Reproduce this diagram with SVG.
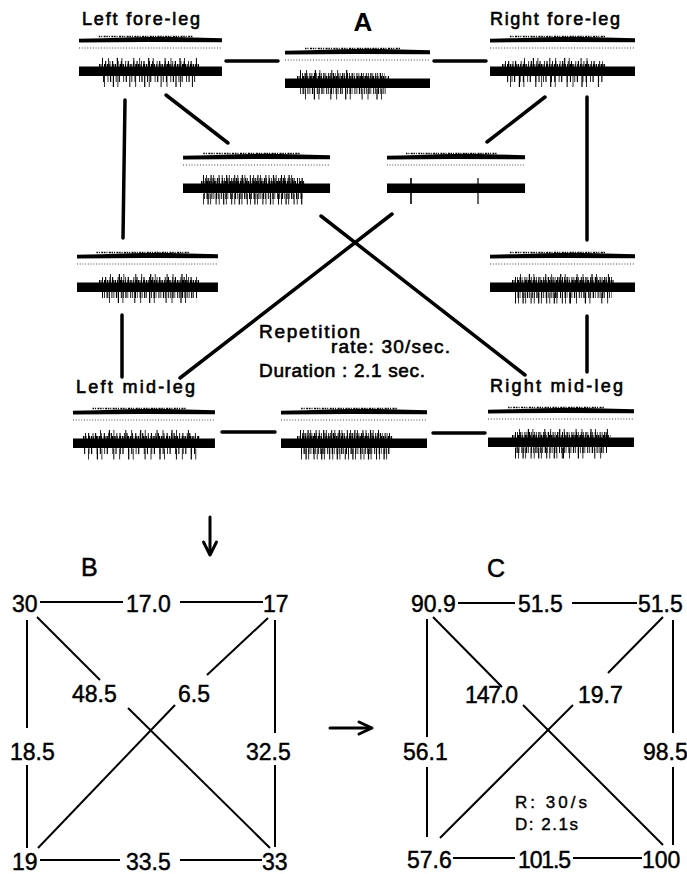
<svg xmlns="http://www.w3.org/2000/svg" xmlns:xlink="http://www.w3.org/1999/xlink" width="687" height="874" viewBox="0 0 687 874">
<style>
.bg{fill:#fff}
.dot{stroke:#000;stroke-width:1;stroke-dasharray:1 1.8;fill:none;opacity:0.75}
.sp{stroke:#000;fill:none}
.hs{stroke-width:6}
.ht{stroke-width:9}
.ls{stroke-width:6}
.lt{stroke-width:11}
.fz{stroke-width:3}
.dA{stroke-dasharray:1 1.1 0.8 1.6 1.3 0.9 0.7 2}
.dAt{stroke-dasharray:1 2.2 0.8 3.5 1.2 1.6 0.8 4.5}
.dC{stroke-dasharray:0.9 2.2 1.1 3.4 0.8 1.6 1.2 4.5}
.dB{stroke-dasharray:1 5 0.8 8 1.2 3.5 0.8 11}
.dF{stroke-dasharray:1.5 1 1 1.5 2 0.8}
.cn{stroke:#000;stroke-width:3.5;stroke-linecap:round;fill:none}
.ln{stroke:#000;stroke-width:2;fill:none}
.ar{stroke:#000;stroke-width:3;fill:none;stroke-linecap:round;stroke-linejoin:round}
text{font-family:"Liberation Sans",Arial,sans-serif;fill:#000;stroke:#000}
.lbl{font-size:18px;stroke-width:0.6}
.note{font-size:19px;stroke-width:0.6}
.num{font-size:23px;stroke-width:0.45}
.sm{font-size:17px;stroke-width:0.4}
.big{font-size:26px;font-weight:bold;stroke-width:0}
.let{font-size:25px;stroke-width:0.5}
</style>
<defs>
<g id="base">
<path d="M0,1.8 L25,1.2 L55,0.2 L85,-0.3 L115,0.4 L145,1.2 V5.2 L70,5 L0,5.4 Z"/>
<line class="sp dF" stroke-width="1.5" x1="20" y1="-0.5" x2="115" y2="-0.5"/>
<line class="dot" x1="0" y1="11" x2="145" y2="11"/>
<rect x="0" y="29.5" width="145" height="9.5"/>
</g>
</defs>
<rect class="bg" x="0" y="0" width="687" height="874"/>

<!-- Panel A -->
<text class="big" x="363" y="31" text-anchor="middle">A</text>

<g id="left-fore">
<text class="lbl" x="82" y="25" textLength="118" lengthAdjust="spacing">Left fore-leg</text>
<g transform="translate(79,37)">
<use xlink:href="#base" transform="scale(0.986,1)"/>
<line class="sp hs dC" x1="23" y1="27" x2="118" y2="27"/>
<line class="sp ht dB" x1="23" y1="25.5" x2="118" y2="25.5"/>
<line class="sp fz dF" x1="20" y1="28.5" x2="120" y2="28.5"/>
<line class="sp ls dC" x1="24" y1="42" x2="118" y2="42" stroke-dashoffset="3"/>
<line class="sp lt dB" x1="24" y1="44.5" x2="118" y2="44.5" stroke-dashoffset="5"/>
</g>
</g>

<g id="top-mid">
<g transform="translate(285,49)">
<use xlink:href="#base"/>
<line class="sp hs dA" x1="15" y1="27" x2="100" y2="27"/>
<line class="sp ht dB" x1="15" y1="25.5" x2="65" y2="25.5"/>
<line class="sp fz dF" x1="12" y1="28.5" x2="104" y2="28.5"/>
<line class="sp ls dA" x1="15" y1="42" x2="102" y2="42" stroke-dashoffset="2"/>
<line class="sp lt dB" x1="18" y1="45" x2="102" y2="45" stroke-dashoffset="4"/>
</g>
</g>

<g id="right-fore">
<text class="lbl" x="490" y="25" textLength="130" lengthAdjust="spacing">Right fore-leg</text>
<g transform="translate(490,37)">
<use xlink:href="#base"/>
<line class="sp hs dC" x1="15" y1="27" x2="113" y2="27"/>
<line class="sp ht dB" x1="30" y1="25.5" x2="100" y2="25.5" stroke-dashoffset="2"/>
<line class="sp fz dF" x1="12" y1="28.5" x2="116" y2="28.5"/>
<line class="sp ls dC" x1="15" y1="42" x2="113" y2="42" stroke-dashoffset="1"/>
<line class="sp lt dB" x1="20" y1="44.5" x2="113" y2="44.5" stroke-dashoffset="6"/>
</g>
</g>

<g id="mid-left">
<g transform="translate(183,154)">
<use xlink:href="#base" transform="scale(1.014,1)"/>
<line class="sp hs dA" x1="20" y1="27" x2="120" y2="27"/>
<line class="sp ht dAt" x1="20" y1="25.5" x2="110" y2="25.5"/>
<line class="sp fz dF" x1="18" y1="28.5" x2="122" y2="28.5"/>
<line class="sp ls dA" x1="20" y1="42" x2="120" y2="42" stroke-dashoffset="1"/>
<line class="sp lt dAt" x1="20" y1="45" x2="120" y2="45" stroke-dashoffset="3"/>
</g>
</g>

<g id="mid-right">
<g transform="translate(387,154)">
<use xlink:href="#base" transform="scale(0.952,1)"/>
<line class="sp" stroke-width="1.6" x1="24" y1="24" x2="24" y2="50"/>
<line class="sp" stroke-width="1.2" x1="91" y1="24" x2="91" y2="50"/>
</g>
</g>

<g id="left-row3">
<g transform="translate(77,253)">
<use xlink:href="#base" transform="scale(0.972,1)"/>
<line class="sp hs dC" x1="25" y1="27" x2="120" y2="27"/>
<line class="sp ht dB" x1="30" y1="25.5" x2="118" y2="25.5" stroke-dashoffset="3"/>
<line class="sp fz dF" x1="22" y1="28.5" x2="122" y2="28.5"/>
<line class="sp ls dA" x1="25" y1="42" x2="120" y2="42"/>
<line class="sp lt dB" x1="28" y1="44.5" x2="120" y2="44.5" stroke-dashoffset="2"/>
</g>
</g>

<g id="right-row3">
<g transform="translate(490,253)">
<use xlink:href="#base"/>
<line class="sp hs dA" x1="25" y1="27" x2="122" y2="27"/>
<line class="sp ht dB" x1="25" y1="25.5" x2="122" y2="25.5" stroke-dashoffset="1"/>
<line class="sp fz dF" x1="22" y1="28.5" x2="124" y2="28.5"/>
<line class="sp ls dA" x1="25" y1="42" x2="122" y2="42" stroke-dashoffset="2"/>
<line class="sp lt dAt" x1="25" y1="45" x2="80" y2="45"/>
<line class="sp lt dB" x1="80" y1="45" x2="122" y2="45"/>
</g>
</g>

<g id="left-mid">
<text class="lbl" x="76" y="393" textLength="119" lengthAdjust="spacing">Left mid-leg</text>
<g transform="translate(73,409)">
<use xlink:href="#base" transform="scale(0.979,1)"/>
<line class="sp hs dC" x1="12" y1="27" x2="125" y2="27"/>
<line class="sp ht dB" x1="25" y1="25.5" x2="120" y2="25.5" stroke-dashoffset="4"/>
<line class="sp fz dF" x1="10" y1="28.5" x2="127" y2="28.5"/>
<line class="sp ls dC" x1="10" y1="42" x2="125" y2="42" stroke-dashoffset="2"/>
<line class="sp lt dB" x1="10" y1="45" x2="125" y2="45" stroke-dashoffset="1"/>
</g>
</g>

<g id="bottom-mid">
<g transform="translate(281,409)">
<use xlink:href="#base" transform="scale(1.007,1)"/>
<line class="sp hs dA" x1="19" y1="27" x2="109" y2="27"/>
<line class="sp ht dAt" x1="19" y1="25.5" x2="100" y2="25.5"/>
<line class="sp fz dF" x1="16" y1="28.5" x2="112" y2="28.5"/>
<line class="sp ls dA" x1="19" y1="42" x2="109" y2="42" stroke-dashoffset="1"/>
<line class="sp lt dAt" x1="19" y1="45" x2="109" y2="45" stroke-dashoffset="2"/>
</g>
</g>

<g id="right-mid">
<text class="lbl" x="490" y="392" textLength="133" lengthAdjust="spacing">Right mid-leg</text>
<g transform="translate(488,408)">
<use xlink:href="#base" transform="scale(1.007,1)"/>
<line class="sp hs dA" x1="27" y1="27" x2="120" y2="27"/>
<line class="sp ht dB" x1="27" y1="25.5" x2="120" y2="25.5" stroke-dashoffset="2"/>
<line class="sp fz dF" x1="24" y1="28.5" x2="123" y2="28.5"/>
<line class="sp ls dA" x1="27" y1="42" x2="120" y2="42" stroke-dashoffset="3"/>
<line class="sp lt dAt" x1="27" y1="45" x2="75" y2="45"/>
<line class="sp lt dB" x1="75" y1="45" x2="120" y2="45"/>
</g>
</g>

<g id="note">
<text class="note" x="259" y="338" textLength="101" lengthAdjust="spacing">Repetition</text>
<text class="note" x="331" y="353" textLength="119" lengthAdjust="spacing">rate: 30/sec.</text>
<text class="note" x="259" y="377" textLength="166" lengthAdjust="spacing">Duration : 2.1 sec.</text>
</g>

<g id="connectors-A">
<line class="cn" x1="226" y1="61" x2="278" y2="61"/>
<line class="cn" x1="434" y1="61" x2="486" y2="61"/>
<line class="cn" x1="125" y1="100" x2="123" y2="238"/>
<line class="cn" x1="166" y1="95" x2="228" y2="143"/>
<line class="cn" x1="545" y1="97" x2="487" y2="142"/>
<line class="cn" x1="587" y1="97" x2="587" y2="240"/>
<line class="cn" x1="321" y1="216" x2="525" y2="375"/>
<line class="cn" x1="392" y1="214" x2="180" y2="378"/>
<line class="cn" x1="122" y1="315" x2="122" y2="377"/>
<line class="cn" x1="587" y1="316" x2="587" y2="372"/>
<line class="cn" x1="222" y1="432" x2="275" y2="432"/>
<line class="cn" x1="433" y1="433" x2="485" y2="433"/>
</g>

<!-- arrows between panels -->
<g id="arrows">
<line class="ar" x1="210" y1="517" x2="210" y2="553"/>
<polyline class="ar" points="203.5,542 210,555 216.5,542"/>
<line class="ar" stroke-width="2.5" x1="330" y1="728" x2="370" y2="728"/>
<polyline class="ar" stroke-width="2.5" points="359,722 372,728 359,734"/>
</g>

<!-- Panel B -->
<g id="panel-B">
<text class="let" x="81" y="576">B</text>
<g id="B-n30"><text class="num" x="12" y="612">30</text></g>
<g id="B-n17"><text class="num" x="263" y="612">17</text></g>
<g id="B-n19"><text class="num" x="12" y="870">19</text></g>
<g id="B-n33"><text class="num" x="262" y="870">33</text></g>
<g id="B-labels">
<text class="num" x="126" y="612">17.0</text>
<text class="num" x="72" y="702">48.5</text>
<text class="num" x="178" y="702">6.5</text>
<text class="num" x="10" y="760">18.5</text>
<text class="num" x="246" y="760">32.5</text>
<text class="num" x="126" y="870">33.5</text>
</g>
<g id="connectors-B">
<line class="ln" x1="40" y1="602" x2="123" y2="602"/>
<line class="ln" x1="180" y1="602" x2="263" y2="602"/>
<line class="ln" x1="27" y1="620" x2="27" y2="728"/>
<line class="ln" x1="27" y1="765" x2="27" y2="848"/>
<line class="ln" x1="275" y1="620" x2="275" y2="733"/>
<line class="ln" x1="275" y1="765" x2="275" y2="847"/>
<line class="ln" x1="37" y1="617" x2="100" y2="680"/>
<line class="ln" x1="268" y1="618" x2="207" y2="675"/>
<line class="ln" x1="175" y1="705" x2="38" y2="848"/>
<line class="ln" x1="128" y1="708" x2="270" y2="848"/>
<line class="ln" x1="40" y1="860" x2="120" y2="860"/>
<line class="ln" x1="180" y1="860" x2="262" y2="860"/>
</g>
</g>

<!-- Panel C -->
<g id="panel-C">
<text class="let" x="487" y="577">C</text>
<g id="C-n909"><text class="num" x="411" y="612">90.9</text></g>
<g id="C-n515"><text class="num" x="638" y="612">51.5</text></g>
<g id="C-n576"><text class="num" x="407" y="868">57.6</text></g>
<g id="C-n100"><text class="num" x="642" y="868">100</text></g>
<g id="C-labels">
<text class="num" x="518" y="612">51.5</text>
<text class="num" x="465" y="703" textLength="53" lengthAdjust="spacing">147.0</text>
<text class="num" x="578" y="703">19.7</text>
<text class="num" x="403" y="760">56.1</text>
<text class="num" x="643" y="760">98.5</text>
<text class="num" x="518" y="868" textLength="53" lengthAdjust="spacing">101.5</text>
<text class="sm" x="515" y="808" textLength="72" lengthAdjust="spacing">R: 30/s</text>
<text class="sm" x="515" y="830" textLength="63" lengthAdjust="spacing">D: 2.1s</text>
</g>
<g id="connectors-C">
<line class="ln" x1="458" y1="603" x2="515" y2="603"/>
<line class="ln" x1="572" y1="603" x2="637" y2="603"/>
<line class="ln" x1="427" y1="619" x2="427" y2="737"/>
<line class="ln" x1="427" y1="767" x2="427" y2="837"/>
<line class="ln" x1="673" y1="620" x2="673" y2="733"/>
<line class="ln" x1="673" y1="767" x2="673" y2="845"/>
<line class="ln" x1="433" y1="617" x2="502" y2="687"/>
<line class="ln" x1="663" y1="617" x2="608" y2="673"/>
<line class="ln" x1="573" y1="705" x2="440" y2="838"/>
<line class="ln" x1="523" y1="705" x2="663" y2="845"/>
<line class="ln" x1="453" y1="858" x2="515" y2="858"/>
<line class="ln" x1="573" y1="858" x2="642" y2="858"/>
</g>
</g>
</svg>
